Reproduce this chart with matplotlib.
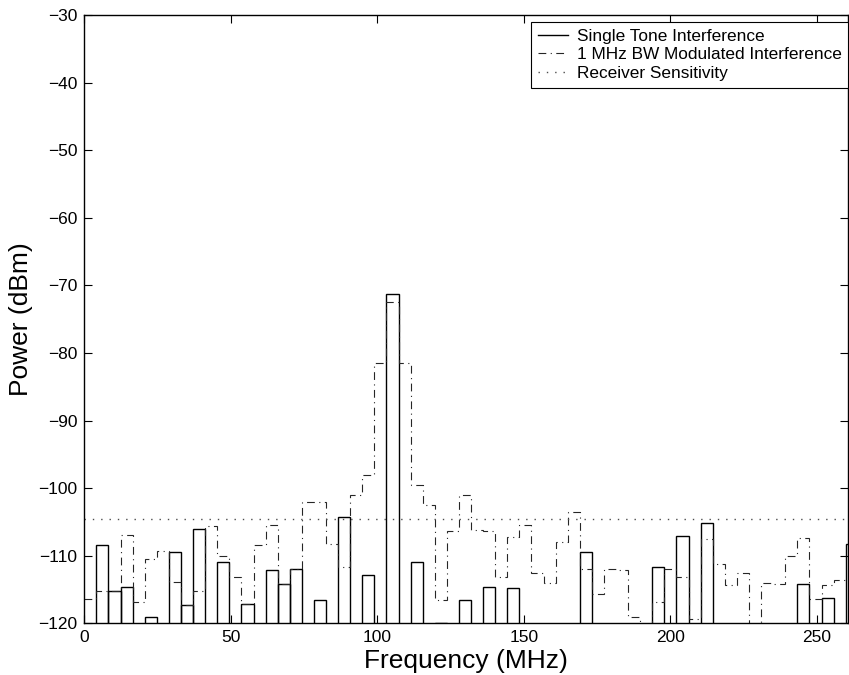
import numpy as np
import matplotlib
matplotlib.use("Agg")
import matplotlib.pyplot as plt
from matplotlib.lines import Line2D

plt.rcParams['font.family'] = ['Liberation Sans', 'DejaVu Sans']

# channel grid (MHz): 64 bins, 4.125 MHz wide, starting at 0
CHANNEL_STEP = 4.125
n_bins = 64
edges = np.arange(n_bins + 1) * CHANNEL_STEP
centers = edges[:-1] + CHANNEL_STEP / 2

nan = np.nan
# single tone interference, dBm per bin (nan = below -120, not visible)
tone_dbm = [
    nan, -108.4, -115.2, -114.7, nan, -119.1, nan, -109.5,
    -117.3, -106.0, nan, -111.0, nan, -117.2, nan, -112.1,
    -114.2, -112.0, nan, -116.6, nan, -104.3, nan, -112.9,
    nan, -71.3, nan, -111.0, nan, -119.9, nan, -116.5,
    nan, -114.6, nan, -114.8, nan, nan, nan, nan,
    nan, -109.5, nan, nan, nan, nan, nan, -111.6,
    nan, -107.1, nan, -105.1, nan, nan, nan, nan,
    nan, nan, nan, -114.2, nan, -116.2, nan, -108.3,
]

# 1 MHz BW modulated interference, dBm per bin
modulated_dbm = [
    -116.4, -115.2, -115.2, -106.9, -116.9, -110.5, -109.3, -113.9,
    -117.3, -115.2, -105.6, -110.0, -113.1, -117.2, -108.4, -105.5,
    -114.2, -112.0, -102.0, -102.0, -108.3, -111.6, -101.0, -98.0,
    -81.5, -72.4, -81.5, -99.5, -102.5, -116.5, -106.4, -101.0,
    -106.2, -106.4, -113.1, -107.2, -105.5, -112.6, -114.1, -107.9,
    -103.6, -112.0, -115.6, -111.9, -112.1, -119.0, -121.0, -116.8,
    -112.0, -113.2, -119.4, -107.5, -111.3, -114.4, -112.6, -121.0,
    -114.0, -114.2, -110.0, -107.4, -116.4, -114.4, -113.6, -113.6,
]

sensitivity_dbm = -104.6

fig = plt.figure(figsize=(8.49, 6.75), dpi=100)
ax = fig.add_axes([0.0993, 0.0766, 0.9, 0.9012])

tone = np.array(tone_dbm)
mask = ~np.isnan(tone)
base = -130
ax.bar(centers[mask], tone[mask] - base, bottom=base, width=CHANNEL_STEP,
       fill=False, edgecolor='black', linewidth=1.0)

dashdot = (0, (7, 4, 1, 4))
ax.stairs(modulated_dbm, edges, baseline=None, color='0.15',
          linewidth=0.8, linestyle=dashdot)

dotted = (0, (1, 5))
ax.axhline(sensitivity_dbm, color='0.3', linewidth=1.0, linestyle=dotted)

ax.set_xlim(0, 260.8)
ax.set_ylim(-120, -30)
ax.set_xticks([0, 50, 100, 150, 200, 250])
ax.set_yticks(np.arange(-120, -29, 10))
ax.tick_params(direction='in', top=True, right=True, length=5.5,
               width=0.8, labelsize=12.5, pad=5)
for s in ax.spines.values():
    s.set_linewidth(1.0)

ax.set_xlabel('Frequency (MHz)', fontsize=19, labelpad=3)
ax.set_ylabel('Power (dBm)', fontsize=19, labelpad=4)

handles = [
    Line2D([], [], color='black', linewidth=1.0),
    Line2D([], [], color='0.15', linewidth=0.8, linestyle=dashdot),
    Line2D([], [], color='0.3', linewidth=1.0, linestyle=dotted),
]
labels = ['Single Tone Interference', '1 MHz BW Modulated Interference',
          'Receiver Sensitivity']
leg = ax.legend(handles, labels, loc='upper right', bbox_to_anchor=(1.0, 0.989),
                borderaxespad=0, fontsize=12.4, handlelength=1.75,
                handletextpad=0.5, labelspacing=0.22, borderpad=0.4,
                fancybox=False, framealpha=1, edgecolor='black')
leg.get_frame().set_linewidth(0.8)

fig.savefig('out.png', dpi=100)
